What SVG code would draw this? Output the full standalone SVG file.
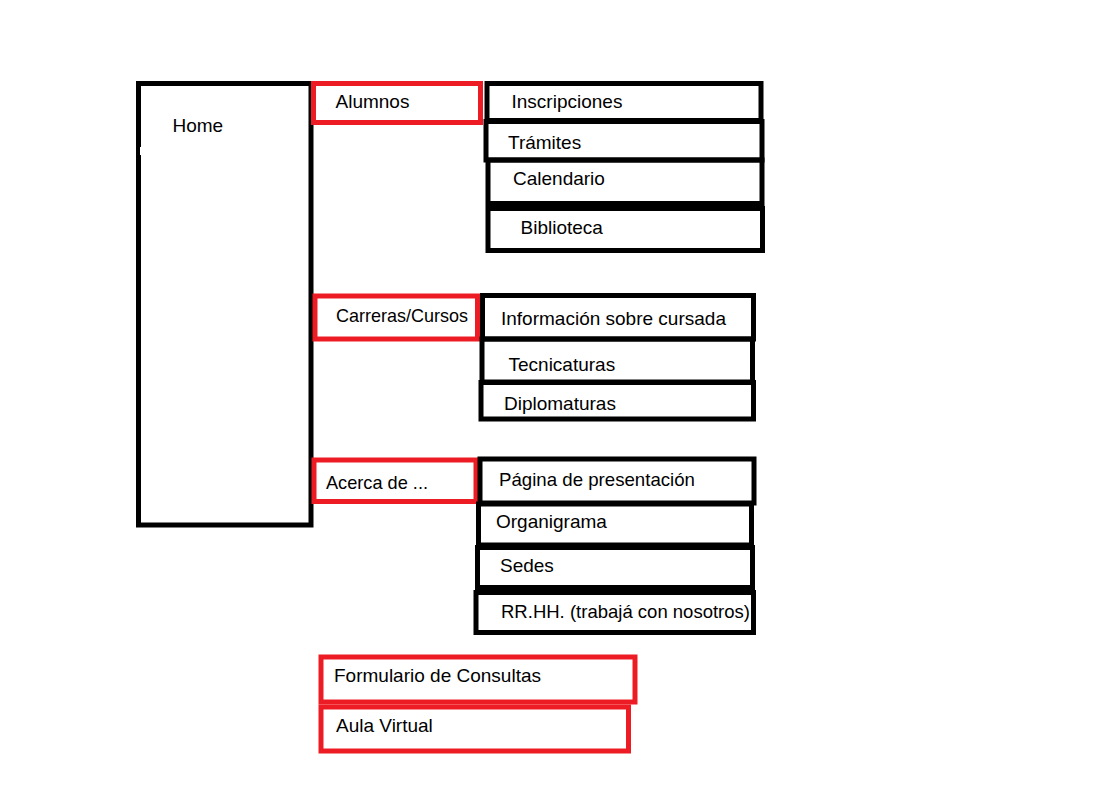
<svg xmlns="http://www.w3.org/2000/svg" width="1096" height="794" viewBox="0 0 1096 794">
<style>
.b{fill:none;stroke:#000;stroke-width:5}
.r{fill:none;stroke:#ED1C24;stroke-width:5}
text{font-family:"Liberation Sans",Arial,sans-serif;font-size:19px;fill:#000}
</style>
<rect width="1096" height="794" fill="#fff"/>
<g id="connectors"></g>
<g id="home"><rect class="b" x="138.5" y="83.5" width="172.5" height="441.5"/><rect x="140" y="147" width="100" height="8" fill="#fff"/><text x="172.5" y="132">Home</text></g>
<g id="alumnos"><rect class="r" x="313.5" y="83.5" width="167" height="39"/><text x="335.5" y="107.5">Alumnos</text></g>
<g id="inscripciones"><rect class="b" x="487" y="83.5" width="274" height="37"/><text x="511.5" y="108">Inscripciones</text></g>
<g id="tramites"><rect class="b" x="486" y="121.5" width="276" height="38.5"/><text x="508" y="149">Trámites</text></g>
<g id="calendario"><rect class="b" x="488" y="160" width="274" height="43.5"/><text x="513" y="184.5">Calendario</text></g>
<g id="biblioteca"><rect class="b" x="488" y="208.5" width="274.5" height="42"/><text x="520.5" y="233.5">Biblioteca</text></g>
<g id="carreras"><rect class="r" x="315" y="296" width="162.5" height="43"/><text x="336" y="321.5" textLength="132" lengthAdjust="spacingAndGlyphs">Carreras/Cursos</text></g>
<g id="informacion"><rect class="b" x="482.5" y="295.5" width="271" height="43.5"/><text x="501" y="325">Información sobre cursada</text></g>
<g id="tecnicaturas"><rect class="b" x="482" y="339" width="270.5" height="43"/><text x="508.5" y="370.5">Tecnicaturas</text></g>
<g id="diplomaturas"><rect class="b" x="481" y="382.5" width="272.5" height="36.5"/><text x="504" y="410">Diplomaturas</text></g>
<g id="acerca"><rect class="r" x="314" y="460" width="162" height="41.5"/><text x="326" y="488.5" textLength="102" lengthAdjust="spacingAndGlyphs">Acerca de ...</text></g>
<g id="pagina"><rect class="b" x="480" y="459" width="274" height="44"/><text x="499" y="485.5" textLength="196" lengthAdjust="spacingAndGlyphs">Página de presentación</text></g>
<g id="organigrama"><rect class="b" x="478.5" y="504" width="273" height="41"/><text x="496" y="527.5">Organigrama</text></g>
<g id="sedes"><rect class="b" x="477.5" y="547.5" width="275" height="40"/><text x="500" y="572">Sedes</text></g>
<g id="rrhh"><rect class="b" x="476" y="592.5" width="277.5" height="40"/><text x="501" y="617.5" textLength="249" lengthAdjust="spacingAndGlyphs">RR.HH. (trabajá con nosotros)</text></g>
<g id="formulario"><rect class="r" x="321" y="657" width="314" height="45"/><text x="334" y="682">Formulario de Consultas</text></g>
<g id="aula"><rect class="r" x="321" y="707" width="307.5" height="44"/><text x="336" y="731.5">Aula Virtual</text></g>
</svg>
